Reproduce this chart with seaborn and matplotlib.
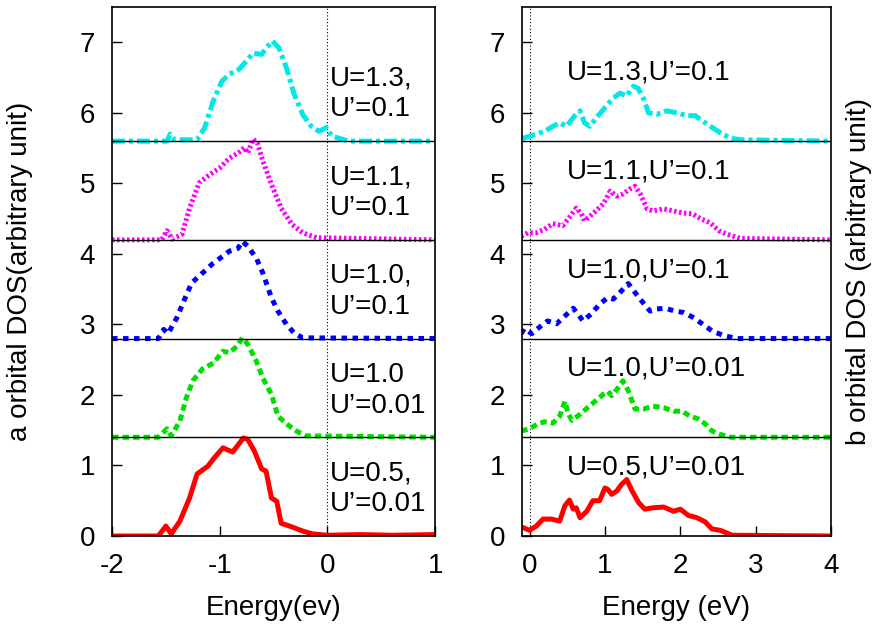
import numpy as np
import matplotlib
matplotlib.use("Agg")
import matplotlib.pyplot as plt
import seaborn as sns

# a orbital (left panel) -- energies and DOS for each (U, U') setting, unshifted
a_labels = ["U=0.5,\nU’=0.01", "U=1.0\nU’=0.01", "U=1.0,\nU’=0.1", "U=1.1,\nU’=0.1", "U=1.3,\nU’=0.1"]

a_e_05 = [-2.0, -1.57, -1.50, -1.45, -1.37, -1.28, -1.21, -1.11, -1.05, -0.97, -0.88, -0.78, -0.74,
          -0.68, -0.61, -0.57, -0.52, -0.47, -0.43, -0.35, -0.23, -0.14, 0.0, 0.3, 0.6, 1.0]
a_d_05 = [0.0, 0.0, 0.14, 0.03, 0.21, 0.54, 0.88, 0.99, 1.11, 1.25, 1.19, 1.39, 1.37,
          1.21, 0.95, 0.92, 0.54, 0.49, 0.18, 0.14, 0.07, 0.03, 0.01, 0.02, 0.01, 0.02]

a_e_10a = [-2.0, -1.57, -1.49, -1.45, -1.37, -1.31, -1.25, -1.16, -1.06, -0.97, -0.91, -0.84, -0.79,
           -0.74, -0.66, -0.60, -0.52, -0.46, -0.38, -0.29, -0.20, 1.0]
a_d_10a = [0.0, 0.0, 0.12, 0.02, 0.23, 0.56, 0.80, 0.97, 1.05, 1.22, 1.20, 1.29, 1.41,
           1.32, 1.08, 0.84, 0.61, 0.30, 0.19, 0.09, 0.02, 0.0]

a_e_10b = [-2.0, -1.57, -1.52, -1.48, -1.40, -1.32, -1.26, -1.16, -1.06, -0.97, -0.91, -0.83, -0.79,
           -0.74, -0.66, -0.60, -0.52, -0.46, -0.38, -0.31, -0.23, 1.0]
a_d_10b = [0.0, 0.0, 0.13, 0.07, 0.29, 0.58, 0.79, 0.93, 1.07, 1.17, 1.24, 1.28, 1.38,
           1.31, 1.14, 0.93, 0.58, 0.39, 0.20, 0.08, 0.01, 0.0]

a_e_11 = [-2.0, -1.54, -1.49, -1.44, -1.35, -1.28, -1.19, -1.09, -1.00, -0.91, -0.83, -0.77, -0.74,
          -0.69, -0.65, -0.60, -0.52, -0.43, -0.33, -0.23, -0.10, 1.0]
a_d_11 = [0.0, 0.0, 0.13, 0.01, 0.08, 0.45, 0.81, 0.93, 1.02, 1.16, 1.23, 1.31, 1.23,
          1.43, 1.37, 1.12, 0.79, 0.45, 0.22, 0.10, 0.03, 0.0]

a_e_13 = [-2.0, -1.49, -1.46, -1.42, -1.21, -1.14, -1.06, -0.98, -0.91, -0.82, -0.75, -0.69, -0.61,
          -0.57, -0.51, -0.45, -0.38, -0.31, -0.23, -0.15, -0.08, -0.01, 0.04, 0.2, 1.0]
a_d_13 = [0.0, 0.0, 0.10, 0.02, 0.02, 0.19, 0.57, 0.85, 0.95, 1.02, 1.14, 1.25, 1.23,
          1.32, 1.42, 1.32, 1.04, 0.67, 0.38, 0.21, 0.14, 0.19, 0.07, 0.0, 0.0]

# b orbital (right panel)
b_labels = ["U=0.5,U’=0.01", "U=1.0,U’=0.01", "U=1.0,U’=0.1", "U=1.1,U’=0.1", "U=1.3,U’=0.1"]

b_e_05 = [-0.11, 0.0, 0.09, 0.18, 0.29, 0.40, 0.47, 0.53, 0.58, 0.62, 0.67, 0.76, 0.84, 0.93, 1.00,
          1.04, 1.09, 1.16, 1.22, 1.29, 1.36, 1.45, 1.53, 1.64, 1.78, 1.91, 2.00, 2.11, 2.22, 2.33,
          2.42, 2.53, 2.69, 4.0]
b_d_05 = [0.13, 0.08, 0.14, 0.24, 0.24, 0.21, 0.43, 0.51, 0.38, 0.40, 0.26, 0.35, 0.50, 0.50, 0.68,
          0.66, 0.59, 0.64, 0.73, 0.80, 0.64, 0.47, 0.38, 0.40, 0.41, 0.35, 0.38, 0.29, 0.26, 0.20,
          0.10, 0.08, 0.01, 0.0]

b_e_10a = [-0.11, 0.0, 0.11, 0.20, 0.31, 0.40, 0.47, 0.51, 0.56, 0.64, 0.76, 0.87, 0.98, 1.04, 1.09,
           1.16, 1.24, 1.31, 1.40, 1.51, 1.64, 1.78, 1.91, 2.02, 2.13, 2.24, 2.33, 2.42, 2.53, 2.67, 4.0]
b_d_10a = [0.09, 0.12, 0.19, 0.22, 0.20, 0.30, 0.51, 0.35, 0.24, 0.30, 0.41, 0.51, 0.61, 0.65, 0.59,
           0.68, 0.80, 0.66, 0.40, 0.40, 0.44, 0.42, 0.37, 0.37, 0.30, 0.26, 0.19, 0.09, 0.04, 0.0, 0.0]

b_e_10b = [-0.11, -0.07, 0.03, 0.13, 0.24, 0.36, 0.47, 0.58, 0.64, 0.71, 0.82, 0.93, 1.04, 1.11, 1.18,
           1.24, 1.31, 1.38, 1.49, 1.60, 1.69, 1.80, 1.93, 2.04, 2.17, 2.29, 2.42, 2.58, 2.76, 4.0]
b_d_10b = [0.07, 0.14, 0.07, 0.16, 0.25, 0.21, 0.32, 0.43, 0.35, 0.25, 0.35, 0.49, 0.58, 0.56, 0.63,
           0.70, 0.78, 0.68, 0.53, 0.39, 0.42, 0.43, 0.39, 0.37, 0.30, 0.21, 0.11, 0.04, 0.0, 0.0]

b_e_11 = [-0.11, -0.02, 0.09, 0.20, 0.31, 0.44, 0.53, 0.62, 0.69, 0.73, 0.84, 0.98, 1.07, 1.16, 1.24,
          1.33, 1.40, 1.47, 1.56, 1.64, 1.78, 1.91, 2.04, 2.16, 2.27, 2.40, 2.51, 2.62, 2.80, 4.0]
b_d_11 = [0.05, 0.10, 0.10, 0.15, 0.23, 0.20, 0.32, 0.45, 0.37, 0.27, 0.37, 0.51, 0.69, 0.62, 0.65,
          0.72, 0.76, 0.65, 0.44, 0.41, 0.44, 0.41, 0.38, 0.37, 0.30, 0.24, 0.13, 0.08, 0.02, 0.0]

b_e_13 = [-0.09, 0.0, 0.09, 0.20, 0.31, 0.40, 0.49, 0.60, 0.67, 0.73, 0.80, 0.91, 1.02, 1.11, 1.20,
          1.29, 1.38, 1.44, 1.51, 1.58, 1.69, 1.82, 1.96, 2.09, 2.20, 2.29, 2.40, 2.53, 2.67, 2.80, 4.0]
b_d_13 = [0.04, 0.07, 0.10, 0.14, 0.21, 0.26, 0.21, 0.36, 0.43, 0.26, 0.21, 0.36, 0.50, 0.61, 0.68,
          0.64, 0.78, 0.75, 0.61, 0.40, 0.38, 0.43, 0.40, 0.36, 0.36, 0.29, 0.21, 0.12, 0.04, 0.02, 0.0]

a_curves = [(a_e_05, a_d_05), (a_e_10a, a_d_10a), (a_e_10b, a_d_10b), (a_e_11, a_d_11), (a_e_13, a_d_13)]
b_curves = [(b_e_05, b_d_05), (b_e_10a, b_d_10a), (b_e_10b, b_d_10b), (b_e_11, b_d_11), (b_e_13, b_d_13)]

offset = 1.4
colors = ["#ff0000", "#00e000", "#0000ff", "#ff00ff", "#00e8e8"]
styles = ["-", (0, (1.3, 0.8)), (0, (1.1, 1.1)), (0, (0.5, 0.5)), (0, (2.6, 0.8, 0.8, 0.8))]

sns.set_theme(style="ticks")
plt.rcParams["font.family"] = ["Liberation Sans", "DejaVu Sans"]
plt.rcParams["axes.unicode_minus"] = False
plt.rcParams["xtick.direction"] = "in"
plt.rcParams["ytick.direction"] = "in"
for k in ["text.color", "axes.labelcolor", "xtick.color", "ytick.color", "axes.edgecolor"]:
    plt.rcParams[k] = "black"

fig = plt.figure(figsize=(8.78, 6.31), dpi=100)
ax1 = fig.add_axes([0.1276, 0.1506, 0.368, 0.838])
ax2 = fig.add_axes([0.5945, 0.1506, 0.352, 0.838])

def draw_panel(ax, curves, labels, xlim, xticks, label_x, two_line):
    for i, (e, d) in enumerate(curves):
        base = i * offset
        sns.lineplot(x=e, y=np.array(d) + base, ax=ax, color=colors[i], lw=3.6,
                     linestyle=styles[i], estimator=None, sort=False, zorder=2)
        if i > 0:
            ax.axhline(base, color="black", lw=1.0, zorder=3)
        if two_line:
            ax.text(label_x, base + 0.67, labels[i], fontsize=20, va="center", ha="left",
                    linespacing=1.25)
        else:
            ax.text(label_x, base + 0.97, labels[i], fontsize=20, va="center", ha="left")
    ax.axvline(0, color="black", lw=0.8, linestyle=(0, (1, 2)), zorder=1)
    ax.set_xlim(*xlim)
    ax.set_ylim(0, 7.5)
    ax.set_xticks(xticks)
    ax.set_yticks(range(8))
    ax.tick_params(labelsize=20, length=7, width=1, top=False, right=False, pad=12)
    for sp in ax.spines.values():
        sp.set_linewidth(1.2)
        sp.set_visible(True)

draw_panel(ax1, a_curves, a_labels, (-2, 1), [-2, -1, 0, 1], 0.02, True)
draw_panel(ax2, b_curves, b_labels, (-0.1, 4), [0, 1, 2, 3, 4], 0.5, False)

ax1.set_xlabel("Energy(ev)", fontsize=20, labelpad=12)
ax1.set_ylabel("a orbital DOS(arbitrary unit)", fontsize=20, labelpad=34)
ax2.set_xlabel("Energy (eV)", fontsize=20, labelpad=12)
ax2.set_ylabel("b orbital DOS (arbitrary unit)", fontsize=20, labelpad=11)
ax2.yaxis.set_label_position("right")

fig.savefig("out.png", dpi=100)
